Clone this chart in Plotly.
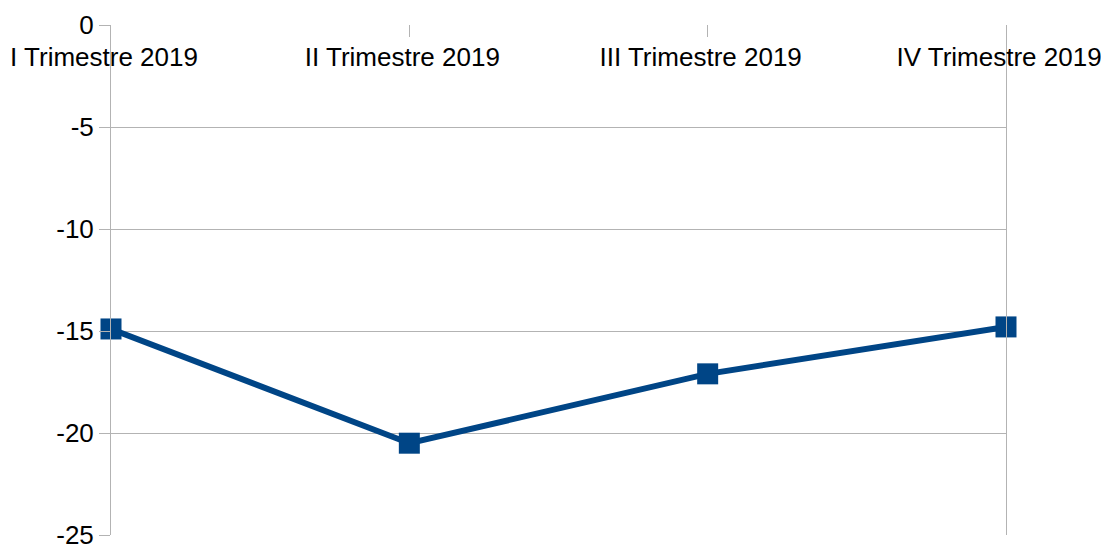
import plotly.graph_objects as go

categories = ["I Trimestre 2019", "II Trimestre 2019", "III Trimestre 2019", "IV Trimestre 2019"]
values = [-14.9, -20.5, -17.1, -14.8]
y_ticks = [0, -5, -10, -15, -20, -25]

grid = "#b3b3b3"
fig = go.Figure()
fig.add_trace(go.Scatter(
    x=categories, y=values, mode="lines+markers",
    line=dict(color="#004586", width=6),
    marker=dict(symbol="square", size=21, color="#004586"),
    cliponaxis=False, showlegend=False,
))
fig.update_layout(
    width=1109, height=544,
    margin=dict(l=103, r=111, t=17, b=17, autoexpand=False),
    plot_bgcolor="white", paper_bgcolor="white",
    font=dict(family="Liberation Sans, Arial, sans-serif", size=26, color="black"),
    xaxis=dict(
        type="category", range=[0, 3], side="top", automargin=False,
        ticks="inside", ticklen=12, tickcolor=grid, tickwidth=1,
        ticklabelposition="inside", ticklabeloverflow="allow",
        ticklabelstandoff=13, ticklabelshift=-7,
        showgrid=False, showline=False, zeroline=False,
        tickfont=dict(size=26, color="black"),
    ),
    yaxis=dict(
        range=[-25, 0], tickvals=y_ticks, ticktext=[str(v) for v in y_ticks],
        automargin=False,
        showgrid=True, gridcolor=grid, gridwidth=1,
        showline=True, linecolor=grid, linewidth=1, mirror=True,
        ticks="outside", ticklen=11, tickcolor=grid,
        zeroline=False, tickfont=dict(size=26, color="black"),
    ),
)
fig.write_html("out.html")
